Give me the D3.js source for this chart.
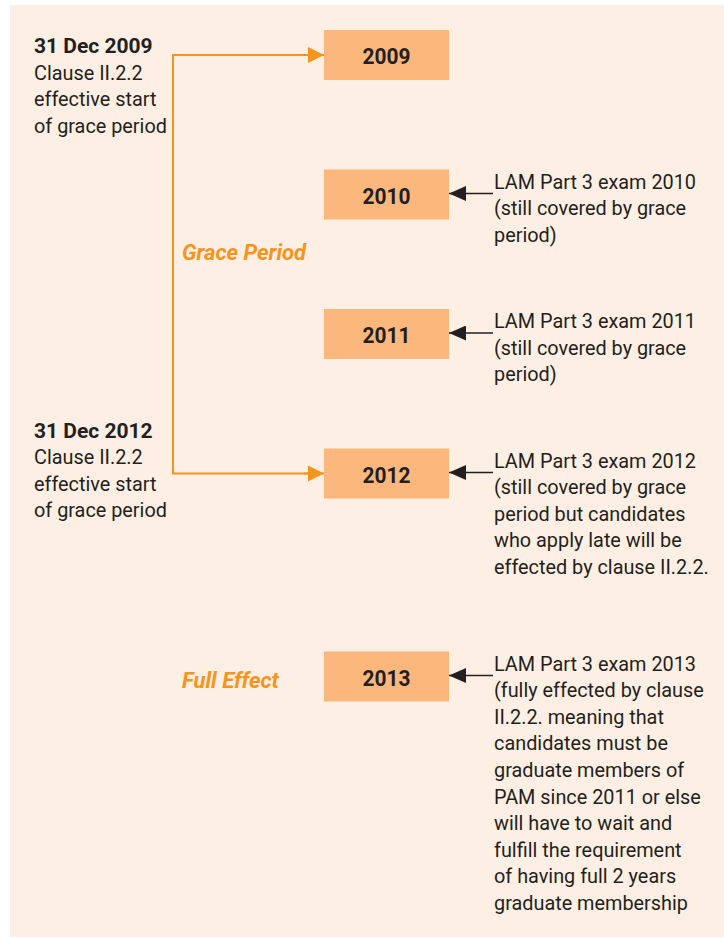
<!DOCTYPE html>
<html>
<head>
<meta charset="utf-8">
<script src="https://cdn.jsdelivr.net/npm/d3@7"></script>
<style>
  html,body{margin:0;padding:0;background:#fff;}
  svg{display:block;}
  text{font-family:Roboto,"Liberation Sans",sans-serif;fill:#231f20;}
</style>
</head>
<body>
<svg id="chart" width="724" height="938"></svg>
<script>
// ---- data ----
const years = ['2009','2010','2011','2012','2013'];
const examNotes = [
  [],
  ['LAM Part 3 exam 2010','(still covered by grace','period)'],
  ['LAM Part 3 exam 2011','(still covered by grace','period)'],
  ['LAM Part 3 exam 2012','(still covered by grace','period but candidates','who apply late will be','effected by clause II.2.2.'],
  ['LAM Part 3 exam 2013','(fully effected by clause','II.2.2. meaning that','candidates must be','graduate members of','PAM since 2011 or else','will have to wait and','fulfill the requirement','of having full 2 years','graduate membership']
];
const milestoneDates = ['31 Dec 2009','31 Dec 2012'];
const milestoneYears = ['2009','2012'];
const milestoneText = ['Clause II.2.2','effective start','of grace period'];
const phaseLabels = ['Grace Period','Full Effect'];
const phaseYears = [['2010','2011'],['2013','2013']];

// ---- layout ----
const ORANGE = '#f7941d', BOX = '#fbb77c', INK = '#231f20', BG = '#fdefe3';
const svg = d3.select('#chart');
svg.append('rect').attr('x',10).attr('y',5).attr('width',714).attr('height',932).attr('fill',BG);

// gap below a box grows with the length of its note
const gap = d3.scaleLinear().domain([3,5]).range([139.5,203]);
const ys = [55];
years.slice(1).forEach((y,i)=> ys.push(ys[i] + gap(Math.max(3, examNotes[i].length))));
const y = d3.scaleOrdinal().domain(years).range(ys);
const x = d3.scalePoint().domain(['date','spine','box','note']).range([34,494]);
const BOXL = 324, BOXW = 125, BOXH = 50, SPINE = 173, LH = 26.6, NARROW = 0.945;

const defs = svg.append('defs');
function marker(id,color,w,h){
  defs.append('marker').attr('id',id).attr('viewBox',`0 0 ${w} ${h}`)
    .attr('refX',w).attr('refY',h/2).attr('markerWidth',w).attr('markerHeight',h)
    .attr('markerUnits','userSpaceOnUse').attr('orient','auto')
    .append('path').attr('d',`M0,0L${w},${h/2}L0,${h}Z`).attr('fill',color);
}
marker('ao',ORANGE,16,16); marker('ak',INK,17,15);

// condensed lines of text: one <text> per line, squeezed horizontally
function lines(sel, arr, x0, y0, size){
  sel.selectAll(null).data(arr).join('text')
    .attr('transform',(d,i)=>`translate(${x0},${y0+i*LH}) scale(${NARROW},1)`)
    .attr('font-size',size).text(d=>d);
}

// orange spine
const y0 = y(milestoneYears[0]), y1 = y(milestoneYears[1]);
svg.append('path').attr('d',`M${BOXL-10},${y0}H${SPINE}V${y1}H${BOXL-10}`).attr('fill','none')
  .attr('stroke',ORANGE).attr('stroke-width',2);
svg.selectAll('line.tip').data(milestoneYears).join('line').attr('class','tip')
  .attr('x1',BOXL-20).attr('x2',BOXL).attr('y1',d=>y(d)).attr('y2',d=>y(d))
  .attr('stroke',ORANGE).attr('stroke-width',2).attr('marker-end','url(#ao)');

// year boxes
const box = svg.selectAll('g.box').data(years).join('g').attr('class','box')
  .attr('transform',d=>`translate(${BOXL},${y(d)-BOXH/2})`);
box.append('rect').attr('width',BOXW).attr('height',BOXH).attr('fill',BOX);
box.append('text').attr('transform',`translate(${BOXW/2},${BOXH/2+9}) scale(0.93,1)`)
  .attr('text-anchor','middle').attr('font-size',22.5).attr('font-weight',700).text(d=>d);

// exam notes with black arrows
const notes = years.map((yr,i)=>({yr, lines:examNotes[i]})).filter(d=>d.lines.length);
svg.selectAll('line.ex').data(notes).join('line').attr('class','ex')
  .attr('x1',x('note')-1).attr('x2',BOXL+BOXW).attr('y1',d=>y(d.yr)-1).attr('y2',d=>y(d.yr)-1)
  .attr('stroke',INK).attr('stroke-width',1.6).attr('marker-end','url(#ak)');
notes.forEach(d=> lines(svg.append('g'), d.lines, x('note'), y(d.yr)-6, 21));

// milestone labels (left)
const shift = [-2,-36];
milestoneDates.forEach((dt,i)=>{
  const by = y(milestoneYears[i])+shift[i];
  svg.append('text').attr('x',x('date')).attr('y',by).attr('font-size',21).attr('font-weight',700).text(dt);
  lines(svg.append('g'), milestoneText, x('date'), by+LH, 21);
});

// phase labels
const phaseY = [d=>(y(d[0])+y(d[1]))/2-4, d=>y(d[0])+11];
svg.selectAll('text.phase').data(phaseLabels).join('text').attr('class','phase')
  .attr('x',182).attr('y',(d,i)=>phaseY[i](phaseYears[i]))
  .attr('font-size',22).attr('font-weight',700).attr('font-style','italic')
  .style('fill',ORANGE).text(d=>d);
</script>
</body>
</html>
